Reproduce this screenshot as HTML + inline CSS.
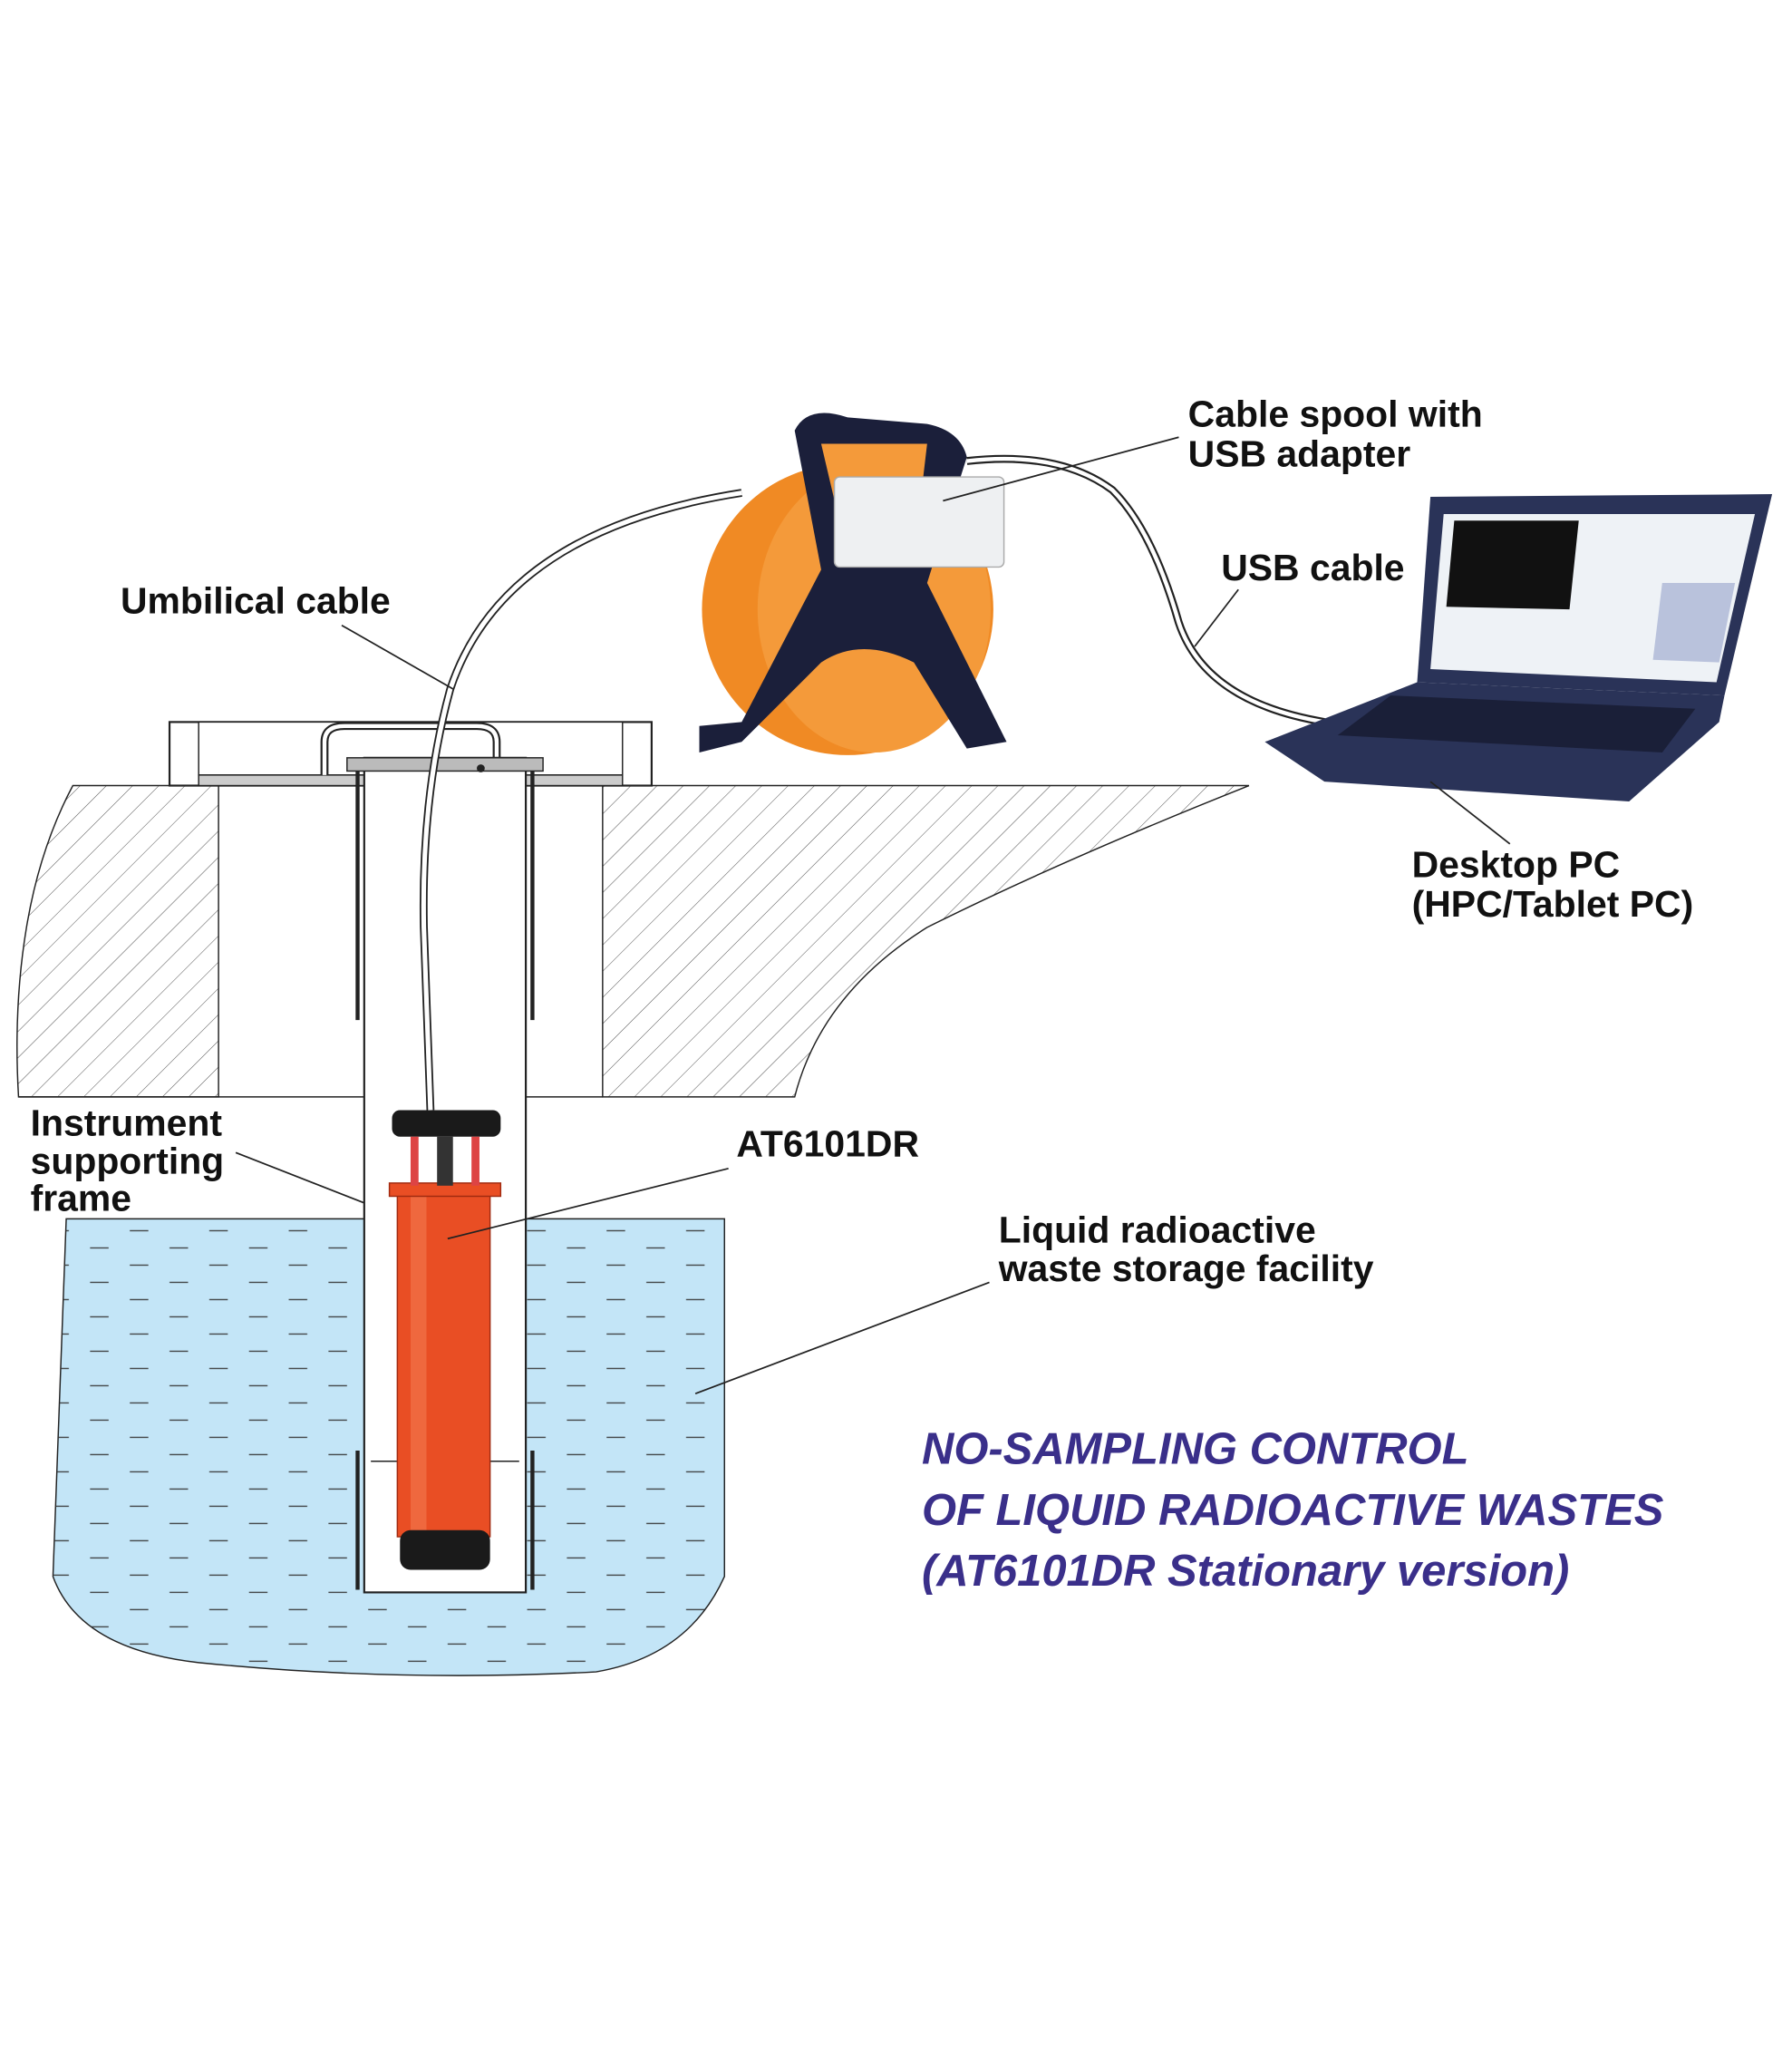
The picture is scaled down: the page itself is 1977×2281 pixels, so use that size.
<!DOCTYPE html>
<html><head><meta charset="utf-8"><style>
html,body{margin:0;padding:0;background:#fff}
svg{display:block}
text{font-family:"Liberation Sans",sans-serif}
</style></head><body>
<svg width="1977" height="2281" viewBox="0 0 1353 1561" xmlns="http://www.w3.org/2000/svg">
<defs>
<pattern id="h" width="14" height="14" patternUnits="userSpaceOnUse" patternTransform="rotate(45)">
<line x1="0" y1="0" x2="0" y2="14" stroke="#555" stroke-width="0.7"/>
</pattern>
<pattern id="w" width="60" height="26" patternUnits="userSpaceOnUse">
<line x1="8" y1="6" x2="22" y2="6" stroke="#333" stroke-width="0.8"/>
<line x1="38" y1="19" x2="52" y2="19" stroke="#333" stroke-width="0.8"/>
</pattern>
</defs>
<path d="M55 593 L165 593 L165 828 L14 828 Q10 760 20 700 Q30 640 55 593Z" fill="url(#h)" stroke="#222" stroke-width="1"/>
<path d="M455 593 L943 593 Q800 650 700 700 Q620 750 600 828 L455 828Z" fill="url(#h)" stroke="#222" stroke-width="1"/>
<line x1="14" y1="828" x2="275" y2="828" stroke="#222"/>
<line x1="397" y1="828" x2="455" y2="828" stroke="#222"/>
<line x1="165" y1="593" x2="455" y2="593" stroke="#222"/>
<rect x="128" y="545" width="364" height="48" fill="none" stroke="#222" stroke-width="1.5"/>
<rect x="150" y="545" width="320" height="40" fill="#fff" stroke="#222"/>
<rect x="150" y="585" width="320" height="8" fill="#ccc" stroke="#222"/>
<path d="M245 585 L245 560 Q245 548 260 548 L360 548 Q375 548 375 560 L375 585" fill="none" stroke="#222" stroke-width="6"/>
<path d="M245 585 L245 560 Q245 548 260 548 L360 548 Q375 548 375 560 L375 585" fill="none" stroke="#fff" stroke-width="3"/>
<path d="M50 920 L547 920 L547 1190 Q520 1250 450 1262 Q300 1270 150 1255 Q60 1245 40 1190 Z" fill="#c3e5f7" stroke="#222" stroke-width="1"/>
<path d="M50 920 L547 920 L547 1190 Q520 1250 450 1262 Q300 1270 150 1255 Q60 1245 40 1190 Z" fill="url(#w)"/>
<rect x="275" y="572" width="122" height="630" fill="#fff" stroke="#222" stroke-width="1.5"/>
<line x1="270" y1="580" x2="270" y2="770" stroke="#222" stroke-width="3"/>
<line x1="402" y1="580" x2="402" y2="770" stroke="#222" stroke-width="3"/>
<line x1="270" y1="1095" x2="270" y2="1200" stroke="#222" stroke-width="3"/>
<line x1="402" y1="1095" x2="402" y2="1200" stroke="#222" stroke-width="3"/>
<rect x="262" y="572" width="148" height="10" fill="#bbb" stroke="#222"/>
<circle cx="363" cy="580" r="3" fill="#222"/>
<line x1="280" y1="1103" x2="392" y2="1103" stroke="#222"/>
<rect x="300" y="895" width="70" height="265" fill="#e94e24" stroke="#a02a10"/>
<rect x="310" y="900" width="12" height="255" fill="#f47a50" opacity=".6"/>
<rect x="294" y="893" width="84" height="10" fill="#e94e24" stroke="#a02a10"/>
<rect x="296" y="838" width="82" height="20" rx="6" fill="#1a1a1a"/>
<rect x="310" y="858" width="6" height="37" fill="#d44"/>
<rect x="356" y="858" width="6" height="37" fill="#d44"/>
<rect x="330" y="858" width="12" height="37" fill="#333"/>
<rect x="302" y="1155" width="68" height="30" rx="8" fill="#1a1a1a"/>
<path d="M325 838 L320 700 Q318 600 340 520 Q380 400 560 372" fill="none" stroke="#222" stroke-width="6"/>
<path d="M325 838 L320 700 Q318 600 340 520 Q380 400 560 372" fill="none" stroke="#fff" stroke-width="3.5"/>
<ellipse cx="640" cy="460" rx="110" ry="110" fill="#f08a24"/>
<ellipse cx="660" cy="460" rx="88" ry="108" fill="#f49a3a"/>
<ellipse cx="670" cy="455" rx="30" ry="28" fill="#1b1f3a"/>
<path d="M600 325 Q610 305 640 315 L700 320 Q725 325 730 345 L700 440 L760 560 L730 565 L690 500 Q650 480 620 500 L560 560 L528 568 L528 548 L560 545 L620 430 Z" fill="#1b1f3a"/>
<path d="M620 335 L700 335 L690 420 L640 420 Z" fill="#f49a3a"/>
<rect x="630" y="360" width="128" height="68" rx="4" fill="#eef0f2" stroke="#aaa"/>
<path d="M730 348 Q800 340 840 370 Q870 400 890 470 Q910 530 1000 545" fill="none" stroke="#222" stroke-width="6"/>
<path d="M730 348 Q800 340 840 370 Q870 400 890 470 Q910 530 1000 545" fill="none" stroke="#fff" stroke-width="3"/>
<path d="M1080 375 L1338 373 L1302 525 L1070 515 Z" fill="#2a3358"/>
<path d="M1090 388 L1325 388 L1296 515 L1080 505 Z" fill="#eef2f6"/>
<path d="M1098 393 L1192 393 L1185 460 L1092 458 Z" fill="#111"/>
<path d="M1255 440 L1310 440 L1298 500 L1248 498 Z" fill="#b9c2dc"/>
<path d="M1070 515 L1302 525 L1298 545 L1230 605 L1000 590 L955 560 Z" fill="#2a3358"/>
<path d="M1050 525 L1280 535 L1255 568 L1010 555 Z" fill="#1a1f38"/>
<g stroke="#222" stroke-width="1.2" fill="none">
<line x1="258" y1="472" x2="342" y2="520"/>
<line x1="890" y1="330" x2="712" y2="378"/>
<line x1="935" y1="445" x2="902" y2="488"/>
<line x1="1140" y1="637" x2="1080" y2="590"/>
<line x1="178" y1="870" x2="275" y2="908"/>
<line x1="550" y1="882" x2="338" y2="935"/>
<line x1="747" y1="968" x2="525" y2="1052"/>
</g>
<g font-weight="bold" font-size="28" fill="#111">
<text x="91" y="463">Umbilical cable</text>
<text x="897" y="322">Cable spool with</text>
<text x="897" y="352">USB adapter</text>
<text x="922" y="438">USB cable</text>
<text x="1066" y="662">Desktop PC</text>
<text x="1066" y="692">(HPC/Tablet PC)</text>
<text x="23" y="857">Instrument</text>
<text x="23" y="886">supporting</text>
<text x="23" y="914">frame</text>
<text x="556" y="873">AT6101DR</text>
<text x="754" y="938">Liquid radioactive</text>
<text x="754" y="967">waste storage facility</text>
</g>
<g font-weight="bold" font-style="italic" font-size="33.5" fill="#3a2f8a">
<text x="696" y="1105">NO-SAMPLING CONTROL</text>
<text x="696" y="1151">OF LIQUID RADIOACTIVE WASTES</text>
<text x="696" y="1197">(AT6101DR Stationary version)</text>
</g>
</svg>
</body></html>
